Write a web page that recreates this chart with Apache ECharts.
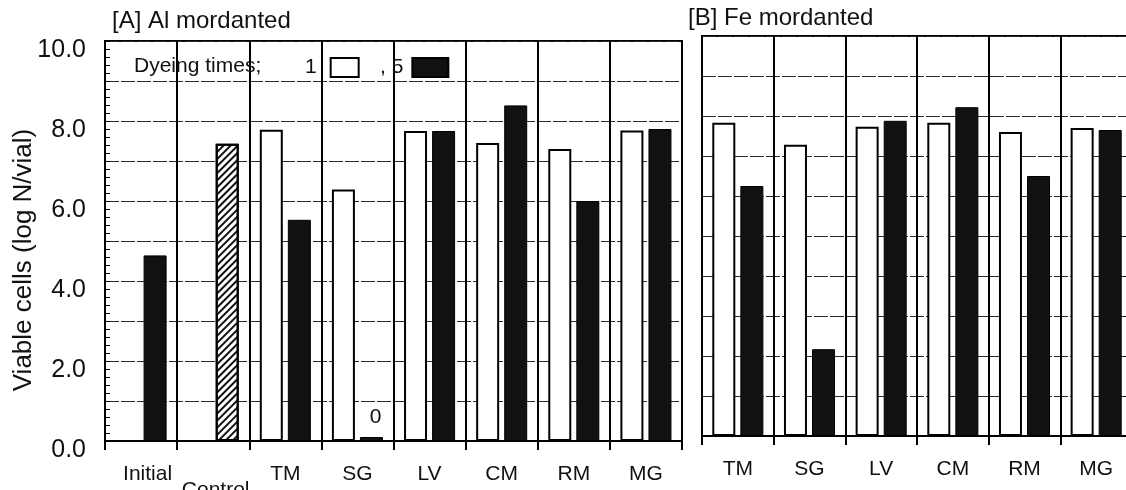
<!DOCTYPE html>
<html>
<head>
<meta charset="utf-8">
<script src="https://cdn.jsdelivr.net/npm/echarts@6/dist/echarts.min.js"></script>
<style>
html,body{margin:0;padding:0;background:#fff;}
#pic{width:1126px;height:490px;}
</style>
</head>
<body>
<div id="pic"></div>
<script>
// panel A (Al mordanted)
var catsA=["Initial","Control","TM","SG","LV","CM","RM","MG"];
var oneA=[null,null,7.78,6.29,7.75,7.45,7.30,7.76];
var fiveA=[4.64,7.43,5.53,0.1,7.75,8.39,6.00,7.80];
// panel B (Fe mordanted)
var catsB=["TM","SG","LV","CM","RM","MG"];
var oneB=[7.83,7.28,7.73,7.83,7.60,7.70];
var fiveB=[6.25,2.17,7.88,8.22,6.50,7.65];
var yTicks=[0,2,4,6,8,10];

var font="'Liberation Sans', Arial, Helvetica, sans-serif";
var ink="#111";
var whiteStyle={color:"#fff",borderColor:"#000",borderWidth:2};
var blackStyle={color:"#111",borderColor:"#000",borderWidth:1};
var hatchStyle={
	color:"#fff",borderColor:"#000",borderWidth:2,
	decal:{symbol:"rect",symbolSize:1,dashArrayX:[1,0],dashArrayY:[1.6,2.6],rotation:-Math.PI/4,color:"#111"}
};

function fiveData(vals,cats){
	return vals.map(function(v,i){
		if(cats[i]=="Control") return {value:v,itemStyle:hatchStyle};
		if(v!=null&&v<0.5) return {value:v,label:{show:true,position:"top",distance:9,offset:[4,0],formatter:function(p){return String(Math.round(p.value));},fontSize:21,color:ink,fontFamily:font}};
		return v;
	});
}
function catData(cats){
	return cats.map(function(c){
		if(c=="Initial") return {value:c,textStyle:{padding:[0,0,0,13]}};
		if(c=="Control") return {value:c,textStyle:{padding:[16,0,0,5]}};
		return c;
	});
}
function xAxis(idx,cats){
	return {
		type:"category",gridIndex:idx,data:catData(cats),
		axisLine:{lineStyle:{color:"#000",width:2}},
		axisTick:{show:true,length:9,lineStyle:{color:"#000",width:2}},
		axisLabel:{fontSize:21,color:ink,fontFamily:font,margin:23,interval:0},
		splitLine:{show:true,interval:0,lineStyle:{color:"#000",width:2}}
	};
}
function yAxis(idx,labels){
	return {
		type:"value",gridIndex:idx,min:0,max:10,interval:1,
		name:labels?"Viable cells (log N/vial)":"",
		nameLocation:"middle",nameGap:68,nameMoveOverlap:false,
		nameTextStyle:{fontSize:26,color:ink,fontFamily:font,padding:[0,38,0,0]},
		axisLine:{show:true,lineStyle:{color:"#000",width:2}},
		axisTick:{show:labels,inside:true,length:5,lineStyle:{color:"#000"}},
		minorTick:{show:labels,splitNumber:5,length:5,lineStyle:{color:"#000"}},
		axisLabel:{show:labels,fontSize:25,color:ink,fontFamily:font,margin:19,verticalAlign:"top",lineHeight:18,
			formatter:function(v){return yTicks.indexOf(v)>=0?v.toFixed(1):"";}},
		splitLine:{show:true,lineStyle:{color:"#2a2a2a",width:1,type:[14,2]}}
	};
}

var myChart=echarts.init(document.getElementById("pic"));
myChart.setOption({
	animation:false,
	backgroundColor:"#fff",
	textStyle:{fontFamily:font},
	title:[
		{text:"[A] Al mordanted",left:112,top:9,padding:0,textStyle:{fontSize:24,fontWeight:"normal",color:ink,fontFamily:font}},
		{text:"[B] Fe mordanted",left:688,top:6,padding:0,textStyle:{fontSize:24,fontWeight:"normal",color:ink,fontFamily:font}},
		{text:"Dyeing times;",left:134,top:56,padding:0,textStyle:{fontSize:21,fontWeight:"normal",color:ink,fontFamily:font}}
	],
	legend:[
		{data:["1"],left:305,top:57,padding:0,align:"right",icon:"rect",itemWidth:28,itemHeight:19,
			textStyle:{fontSize:21,color:ink,fontFamily:font,padding:[0,9,0,0]}},
		{data:["5"],left:380,top:57,padding:0,align:"right",icon:"rect",itemWidth:36,itemHeight:19,
			formatter:function(n){return ", "+n;},
			textStyle:{fontSize:21,color:ink,fontFamily:font,padding:[0,4,0,0]}}
	],
	grid:[
		{left:105,top:41,width:577,height:400,show:true,borderColor:"#000",borderWidth:2,backgroundColor:"transparent",outerBoundsMode:"none"},
		{left:702,top:36,width:430,height:400,show:true,borderColor:"#000",borderWidth:2,backgroundColor:"transparent",outerBoundsMode:"none"}
	],
	xAxis:[xAxis(0,catsA),xAxis(1,catsB)],
	yAxis:[yAxis(0,true),yAxis(1,false)],
	series:[
		{name:"1",type:"bar",xAxisIndex:0,yAxisIndex:0,data:oneA,barWidth:23,barGap:"22%",itemStyle:whiteStyle},
		{name:"5",type:"bar",xAxisIndex:0,yAxisIndex:0,data:fiveData(fiveA,catsA),barWidth:23,barGap:"22%",itemStyle:blackStyle},
		{name:"1",type:"bar",xAxisIndex:1,yAxisIndex:1,data:oneB,barWidth:23,barGap:"22%",itemStyle:whiteStyle},
		{name:"5",type:"bar",xAxisIndex:1,yAxisIndex:1,data:fiveData(fiveB,catsB),barWidth:23,barGap:"22%",itemStyle:blackStyle}
	]
});
</script>
</body>
</html>
